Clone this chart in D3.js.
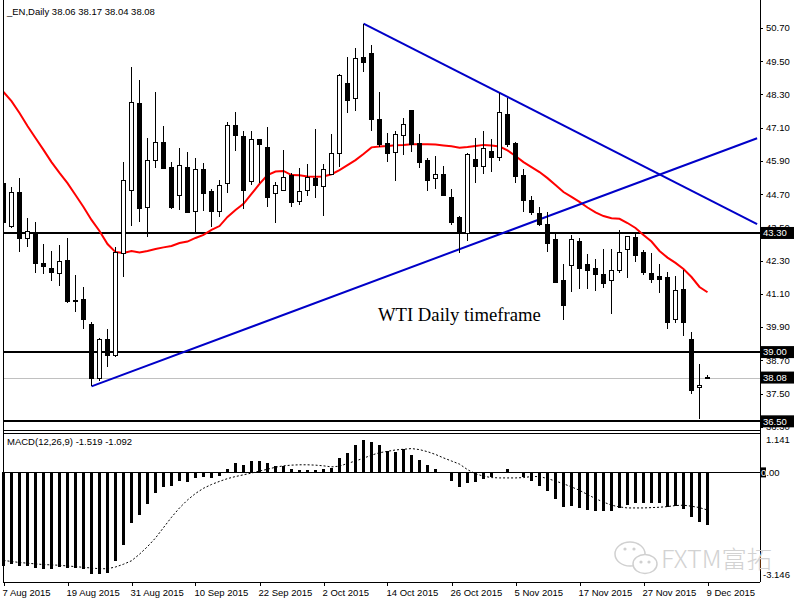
<!DOCTYPE html>
<html>
<head>
<meta charset="utf-8">
<script src="https://cdn.jsdelivr.net/npm/d3@7"></script>
<style>
body { margin: 0; background: #fff; }
svg { display: block; }
text { font-family: "Liberation Sans", Arial, sans-serif; }
</style>
</head>
<body>
<div id="chart"></div>
<script>
// 日线 OHLC
const opens  = [45.10,43.53,44.77,43.11,43.31,42.21,42.02,41.84,42.31,40.88,40.91,40.00,38.05,39.44,38.87,42.57,44.83,47.98,44.23,45.93,
                46.57,45.67,44.66,45.68,44.08,45.60,44.79,44.08,45.07,47.19,46.77,45.15,46.66,46.37,44.73,44.85,45.39,44.43,44.85,45.27,
                44.99,45.42,46.18,48.70,48.16,49.64,49.79,47.40,46.54,46.21,46.81,47.73,46.54,45.90,45.27,45.42,44.59,43.85,43.29,45.97,
                45.69,46.23,46.02,47.58,46.54,45.36,44.49,44.01,43.61,43.08,41.60,42.14,43.01,42.17,42.03,41.81,41.57,41.95,42.71,43.14,
                42.60,41.84,41.72,41.71,40.18,41.27,39.47,37.71,38.06];
const highs  = [45.20,44.97,45.27,43.83,43.69,42.89,42.65,42.87,43.11,41.78,41.34,40.10,39.50,39.82,42.80,45.85,49.30,48.82,46.72,48.38,
                47.16,45.87,46.38,46.23,46.00,45.82,44.89,45.21,47.31,47.67,46.98,46.98,46.70,47.14,45.14,46.30,45.45,45.64,45.79,47.05,
                45.79,46.87,49.04,49.66,49.99,50.86,50.09,48.38,46.90,46.98,47.46,47.75,46.87,46.02,46.08,45.72,44.89,43.90,46.20,46.72,
                46.98,46.68,48.34,48.18,46.60,45.60,44.64,44.24,44.05,43.25,42.17,43.23,43.11,42.53,42.36,42.71,42.72,43.41,43.20,43.29,
                42.69,42.57,42.17,41.90,41.75,41.96,39.74,38.56,38.17];
const lows   = [43.50,43.49,42.62,42.80,41.87,41.81,41.58,41.39,40.76,40.46,39.82,37.76,37.97,38.47,38.81,41.72,43.56,43.71,43.17,45.64,
                45.60,44.17,44.13,44.01,43.31,44.09,43.53,43.89,44.75,46.27,44.18,45.04,45.10,44.25,43.67,44.80,44.25,44.31,44.65,44.57,
                43.92,45.40,45.69,47.64,47.71,49.10,46.99,46.41,45.87,45.19,46.12,46.21,45.66,44.83,44.88,44.64,43.59,42.57,43.02,45.12,
                45.44,45.51,45.91,46.39,45.09,44.07,43.95,43.56,42.60,41.48,40.16,41.18,41.28,41.28,41.22,41.30,40.36,41.84,41.66,42.24,
                41.78,41.48,41.12,39.83,40.04,39.59,37.48,36.58,38.04];
const closes = [43.66,44.77,43.11,43.35,42.21,42.08,41.87,42.28,40.82,40.85,40.18,38.05,39.44,38.87,42.59,45.19,48.02,44.19,45.93,46.57,
                45.64,44.21,45.72,44.03,45.60,44.73,44.07,45.02,47.19,46.81,44.85,46.68,46.48,44.57,45.03,45.31,44.39,44.79,45.31,45.01,
                45.60,46.18,48.99,48.08,49.61,49.46,47.40,46.51,46.18,46.86,47.22,46.50,45.84,45.19,45.42,44.67,43.67,43.29,46.12,45.69,
                46.36,46.02,47.66,46.51,45.33,44.49,44.03,43.61,42.93,41.52,40.67,43.08,42.03,41.94,41.81,41.48,41.94,42.60,43.17,42.48,
                41.87,41.63,41.63,40.08,41.24,40.08,37.61,37.81,38.08];

// 红色均线
const maValues = [48.39,48.06,47.63,47.16,46.73,46.30,45.86,45.47,45.10,44.67,44.24,43.77,43.37,42.90,42.61,42.58,42.65,42.60,42.65,42.72,
                  42.78,42.83,42.94,42.99,43.12,43.23,43.41,43.55,43.88,44.13,44.35,44.71,45.07,45.39,45.52,45.54,45.39,45.38,45.34,45.33,
                  45.34,45.42,45.57,45.75,45.93,46.15,46.39,46.42,46.44,46.47,46.48,46.50,46.50,46.50,46.49,46.46,46.43,46.38,46.40,46.44,
                  46.48,46.46,46.42,46.28,46.08,45.86,45.68,45.50,45.28,45.03,44.78,44.60,44.42,44.22,44.04,43.91,43.83,43.81,43.66,43.48,
                  43.23,42.99,42.65,42.41,42.22,42.00,41.71,41.35,41.16];

// MACD(12,26,9) 柱和信号线
const macdHist = [-2.71,-2.66,-2.71,-2.71,-2.77,-2.81,-2.81,-2.73,-2.77,-2.77,-2.81,-2.93,-2.93,-2.91,-2.58,-2.09,-1.46,-1.23,-0.92,-0.60,
                  -0.42,-0.39,-0.26,-0.28,-0.16,-0.14,-0.17,-0.11,0.11,0.26,0.20,0.32,0.33,0.26,0.18,0.18,0.09,0.06,0.06,0.07,
                  0.09,0.13,0.42,0.57,0.78,0.95,0.89,0.78,0.63,0.58,0.68,0.50,0.37,0.20,0.11,-0.03,-0.25,-0.42,-0.30,-0.28,
                  -0.20,-0.12,0.02,0.09,-0.01,-0.12,-0.25,-0.39,-0.54,-0.78,-1.00,-0.97,-1.03,-1.08,-1.12,-1.13,-1.11,-1.04,-0.95,-0.89,
                  -0.89,-0.89,-0.89,-0.99,-0.97,-1.06,-1.28,-1.43,-1.52];
const macdSignal = [-2.55,-2.58,-2.61,-2.63,-2.65,-2.67,-2.68,-2.69,-2.71,-2.73,-2.75,-2.77,-2.79,-2.79,-2.74,-2.66,-2.56,-2.37,-2.15,-1.90,
                    -1.60,-1.30,-1.03,-0.80,-0.61,-0.46,-0.35,-0.26,-0.18,-0.12,-0.07,-0.02,0.04,0.09,0.15,0.19,0.21,0.22,0.22,0.21,
                    0.19,0.16,0.18,0.26,0.33,0.41,0.50,0.57,0.61,0.65,0.67,0.69,0.66,0.60,0.52,0.42,0.33,0.24,0.08,-0.04,
                    -0.11,-0.15,-0.16,-0.16,-0.16,-0.15,-0.12,-0.12,-0.18,-0.25,-0.33,-0.42,-0.52,-0.64,-0.76,-0.86,-0.95,-1.00,-1.03,-1.03,
                    -1.03,-1.02,-1.01,-0.99,-0.96,-0.95,-0.98,-1.02,-1.09];

const dateTickIdx = [0, 8, 16, 24, 32, 40, 48, 56, 64, 72, 80, 88];
const dateTickLabels = ["7 Aug 2015", "19 Aug 2015", "31 Aug 2015", "10 Sep 2015", "22 Sep 2015", "2 Oct 2015",
                        "14 Oct 2015", "26 Oct 2015", "5 Nov 2015", "17 Nov 2015", "27 Nov 2015", "9 Dec 2015"];
const priceTicks = [50.70, 49.50, 48.30, 47.10, 45.90, 44.70, 43.50, 42.30, 41.10, 39.90, 38.70, 37.50, 36.30];
const levels = [43.30, 39.00, 36.50];
const bidPrice = 38.08;
const macdTicks = [1.141, -3.146];
const macdLegend = ["-1.519", "-1.092"];
// 趋势线 [bar index, price]
const trendUp = [[11, 37.76], [94.2, 46.72]];
const trendDown = [[45, 50.86], [94.2, 43.62]];
const note = {i: 46.8, price: 40.12, text: "WTI Daily timeframe"};

const W = 800, H = 600;
const left = 3, right = 760;
const svg = d3.select("#chart").append("svg").attr("width", W).attr("height", H);

const x = d3.scaleLinear().domain([0, 88]).range([3.5, 707.5]);
const y = d3.scaleLinear().domain([36.151, 51.566]).range([431, 4]);
const ym = d3.scaleLinear().domain([-3.146, 1.141]).range([581, 433]);

// 价格面板裁剪
svg.append("clipPath").attr("id", "pclip").append("rect")
    .attr("x", left).attr("y", 0).attr("width", right - left).attr("height", 430);
const pg = svg.append("g").attr("clip-path", "url(#pclip)");

const idx = d3.range(opens.length);

// 当前价灰线
pg.append("line").attr("x1", left).attr("x2", right)
    .attr("y1", Math.round(y(bidPrice)) + 0.5).attr("y2", Math.round(y(bidPrice)) + 0.5)
    .attr("stroke", "#c0c0c0").attr("stroke-width", 1);

// 水平支撑/阻力线
pg.selectAll(".lvl").data(levels).enter().append("line")
    .attr("x1", left).attr("x2", right)
    .attr("y1", d => Math.round(y(d))).attr("y2", d => Math.round(y(d)))
    .attr("stroke", "#000").attr("stroke-width", 2);

// 均线
pg.append("path").datum(idx)
    .attr("d", d3.line().x(i => x(i)).y(i => y(maValues[i])))
    .attr("fill", "none").attr("stroke", "#ff0000").attr("stroke-width", 2);

// 趋势线
[trendUp, trendDown].forEach(t => {
    pg.append("line")
        .attr("x1", x(t[0][0])).attr("y1", y(t[0][1]))
        .attr("x2", x(t[1][0])).attr("y2", y(t[1][1]))
        .attr("stroke", "#0000c8").attr("stroke-width", 2);
});

// K线
const cg = pg.append("g").attr("shape-rendering", "crispEdges");
cg.selectAll(".wick").data(idx).enter().append("line")
    .attr("x1", i => x(i)).attr("x2", i => x(i))
    .attr("y1", i => y(highs[i])).attr("y2", i => y(lows[i]))
    .attr("stroke", "#000").attr("stroke-width", 1);
cg.selectAll(".body").data(idx).enter().append("rect")
    .attr("x", i => x(i) - 2)
    .attr("width", 4)
    .attr("y", i => y(Math.max(opens[i], closes[i])))
    .attr("height", i => Math.max(1, Math.abs(y(opens[i]) - y(closes[i]))))
    .attr("fill", i => closes[i] >= opens[i] ? "#fff" : "#000")
    .attr("stroke", "#000").attr("stroke-width", 1);

// 注释文字
pg.append("text").attr("x", x(note.i)).attr("y", y(note.price))
    .style("font-family", "'Liberation Serif', 'Times New Roman', serif")
    .style("font-size", "18.7px").attr("fill", "#000").text(note.text);

// 标题
svg.append("text").attr("x", 7).attr("y", 15).style("font-size", "9.5px")
    .text("_EN,Daily  " + [opens[88], highs[88], lows[88], closes[88]].map(d => d.toFixed(2)).join(" "));

// MACD 面板
const mg = svg.append("g");
mg.append("line").attr("x1", left).attr("x2", right)
    .attr("y1", Math.round(ym(0)) + 0.5).attr("y2", Math.round(ym(0)) + 0.5)
    .attr("stroke", "#000").attr("stroke-width", 1);
mg.selectAll(".hist").data(idx).enter().append("rect")
    .attr("shape-rendering", "crispEdges")
    .attr("x", i => x(i) - 1.5).attr("width", 3)
    .attr("y", i => Math.min(ym(0), ym(macdHist[i])))
    .attr("height", i => Math.abs(ym(macdHist[i]) - ym(0)))
    .attr("fill", "#000");
mg.append("path").datum(idx)
    .attr("d", d3.line().x(i => x(i)).y(i => ym(macdSignal[i])))
    .attr("fill", "none").attr("stroke", "#000").attr("stroke-width", 1)
    .attr("stroke-dasharray", "2,2");
mg.append("text").attr("x", 7).attr("y", 445).style("font-size", "9.5px")
    .text("MACD(12,26,9) " + macdLegend.join(" "));

// 面板边框
const frame = svg.append("g").attr("stroke", "#000").attr("stroke-width", 1).attr("shape-rendering", "crispEdges");
frame.append("line").attr("x1", left).attr("x2", left).attr("y1", 0).attr("y2", 582);
frame.append("line").attr("x1", right).attr("x2", right).attr("y1", 0).attr("y2", 582);
frame.append("line").attr("x1", left).attr("x2", right).attr("y1", 430).attr("y2", 430);
frame.append("line").attr("x1", left).attr("x2", right).attr("y1", 433).attr("y2", 433);
frame.append("line").attr("x1", left).attr("x2", right).attr("y1", 582).attr("y2", 582);

// 右侧价格刻度
const ax = svg.append("g");
ax.selectAll(".pt").data(priceTicks).enter().append("line")
    .attr("x1", right).attr("x2", right + 3)
    .attr("y1", d => Math.round(y(d)) + 0.5).attr("y2", d => Math.round(y(d)) + 0.5)
    .attr("stroke", "#000");
ax.selectAll(".pl").data(priceTicks).enter().append("text")
    .attr("x", 766).attr("y", d => y(d)).attr("dy", "0.35em")
    .style("font-size", "9.5px").text(d => d.toFixed(2));

// 价格标签框
ax.selectAll(".box").data(levels.concat([bidPrice])).enter().append("rect")
    .attr("x", right).attr("width", 34).attr("y", d => y(d) - 6).attr("height", 12).attr("fill", "#000");
ax.selectAll(".boxt").data(levels.concat([bidPrice])).enter().append("text")
    .attr("x", 763).attr("y", d => y(d)).attr("dy", "0.35em")
    .style("font-size", "9.5px").attr("fill", "#fff").text(d => d.toFixed(2));

// MACD 刻度
ax.append("text").attr("x", 766).attr("y", ym(macdTicks[0]) + 7).attr("dy", "0.35em")
    .style("font-size", "9.5px").text(macdTicks[0].toFixed(3));
ax.append("text").attr("x", 763).attr("y", ym(macdTicks[1]) - 6).attr("dy", "0.35em")
    .style("font-size", "9.5px").text(macdTicks[1].toFixed(3));
ax.append("rect").attr("x", 761).attr("y", ym(0) - 5).attr("width", 5).attr("height", 10).attr("fill", "#000");
const zt = ax.append("text").attr("x", 761).attr("y", ym(0)).attr("dy", "0.35em").style("font-size", "9.5px");
zt.append("tspan").attr("fill", "#fff").text("0");
zt.append("tspan").attr("fill", "#000").text(".00");

// 底部日期
ax.selectAll(".dt").data(dateTickIdx).enter().append("line")
    .attr("x1", d => Math.round(x(d)) + 0.5).attr("x2", d => Math.round(x(d)) + 0.5)
    .attr("y1", 582).attr("y2", 586).attr("stroke", "#000");
ax.selectAll(".dl").data(dateTickIdx).enter().append("text")
    .attr("x", d => x(d) - 1).attr("y", 596)
    .style("font-size", "9.5px").text((d, k) => dateTickLabels[k]);

// 水印
const wm = svg.append("g").attr("fill", "none").attr("stroke", "#d0d0d0").attr("stroke-width", 1.5);
wm.append("ellipse").attr("cx", 630).attr("cy", 554).attr("rx", 15).attr("ry", 12);
wm.append("ellipse").attr("cx", 645).attr("cy", 564).attr("rx", 12).attr("ry", 9.5).attr("fill", "#fff");
[[625, 549], [634, 549], [641, 562], [649, 562]].forEach(p =>
    svg.append("circle").attr("cx", p[0]).attr("cy", p[1]).attr("r", 1.6).attr("fill", "#d0d0d0"));
svg.append("text").attr("x", 661).attr("y", 568)
    .style("font-family", "'Noto Sans CJK SC', 'Noto Sans', sans-serif")
    .style("font-size", "24px").style("font-weight", 300)
    .attr("textLength", 111).attr("lengthAdjust", "spacingAndGlyphs")
    .attr("fill", "#d2d2d2").text("FXTM富拓");
</script>
</body>
</html>
